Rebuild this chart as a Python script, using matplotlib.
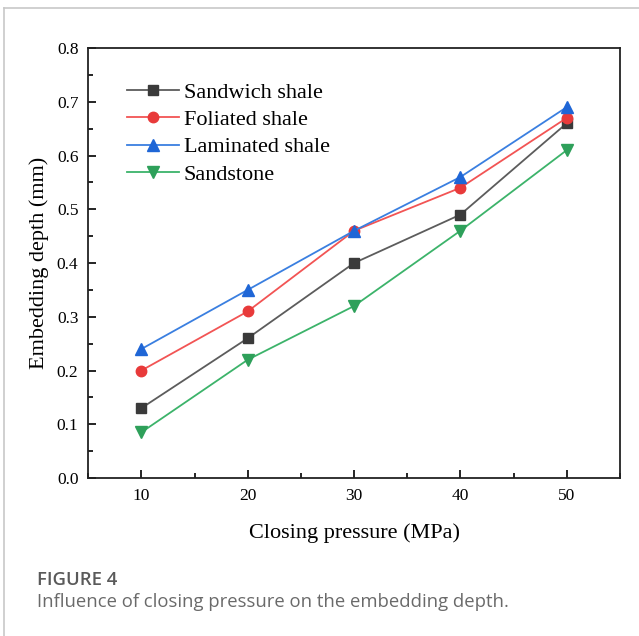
import matplotlib.pyplot as plt
from matplotlib.ticker import MultipleLocator
from matplotlib.lines import Line2D

# closing pressure (MPa)
pressure = [10, 20, 30, 40, 50]
# embedding depth (mm)
sandwich = [0.13, 0.26, 0.40, 0.49, 0.66]
foliated = [0.20, 0.31, 0.46, 0.54, 0.67]
laminated = [0.24, 0.35, 0.46, 0.56, 0.69]
sandstone = [0.085, 0.22, 0.32, 0.46, 0.61]

series_names = ["Sandwich shale", "Foliated shale", "Laminated shale", "Sandstone"]

fig = plt.figure(figsize=(6.39, 6.36), dpi=100)
ax = fig.add_axes([0.138, 0.2484, 0.832, 0.676])

serif = "Liberation Serif"

ax.plot(pressure, sandwich, color="#5c5c5c", lw=1.3, marker="s", ms=7,
        mfc="#3a3a3a", mec="#3a3a3a", label=series_names[0])
ax.plot(pressure, foliated, color="#f25454", lw=1.3, marker="o", ms=7.5,
        mfc="#e83a3a", mec="#e83a3a", label=series_names[1])
ax.plot(pressure, laminated, color="#3a7fe0", lw=1.3, marker="^", ms=8,
        mfc="#1f66d6", mec="#1f66d6", label=series_names[2])
ax.plot(pressure, sandstone, color="#3cb36a", lw=1.3, marker="v", ms=8,
        mfc="#2ea05a", mec="#2ea05a", label=series_names[3])

ax.set_xlim(5, 55)
ax.set_ylim(0, 0.8)
ax.xaxis.set_major_locator(MultipleLocator(10))
ax.xaxis.set_minor_locator(MultipleLocator(5))
ax.yaxis.set_major_locator(MultipleLocator(0.1))
ax.yaxis.set_minor_locator(MultipleLocator(0.05))
ax.tick_params(which="both", direction="in", top=False, right=False, width=1.2)
ax.tick_params(which="major", length=6, labelsize=12.5, pad=7)
ax.tick_params(which="minor", length=3.5)
ax.yaxis.set_major_formatter(plt.FuncFormatter(lambda v, p: f"{v:.1f}"))
for lab in ax.get_xticklabels() + ax.get_yticklabels():
    lab.set_fontfamily(serif)
for sp in ax.spines.values():
    sp.set_linewidth(1.3)
    sp.set_color("#222222")

ax.set_xlabel("Closing pressure (MPa)", fontfamily=serif, fontsize=16, labelpad=14)
ax.set_ylabel("Embedding depth (mm)", fontfamily=serif, fontsize=16, labelpad=6)

leg = ax.legend(loc="upper left", bbox_to_anchor=(0.073, 0.92), frameon=False,
                prop={"family": serif, "size": 16}, handlelength=2.35,
                handletextpad=0.2, labelspacing=0.3, borderaxespad=0,
                borderpad=0)

# caption
fig.text(0.058, 0.080, "FIGURE 4", fontfamily="Open Sans", fontsize=13.3,
         color="#5a5a5a", weight="semibold")
fig.text(0.058, 0.045, "Influence of closing pressure on the embedding depth.",
         fontfamily="Open Sans", fontsize=13.3, color="#6a6a6a")

# outer frame lines (top and left)
fig.add_artist(Line2D([0.006, 1.0], [0.988, 0.988], color="#c8c8c8", lw=1.2,
                      transform=fig.transFigure))
fig.add_artist(Line2D([0.006, 0.006], [0.0, 0.988], color="#c8c8c8", lw=1.2,
                      transform=fig.transFigure))

fig.savefig("out.png", dpi=100)
